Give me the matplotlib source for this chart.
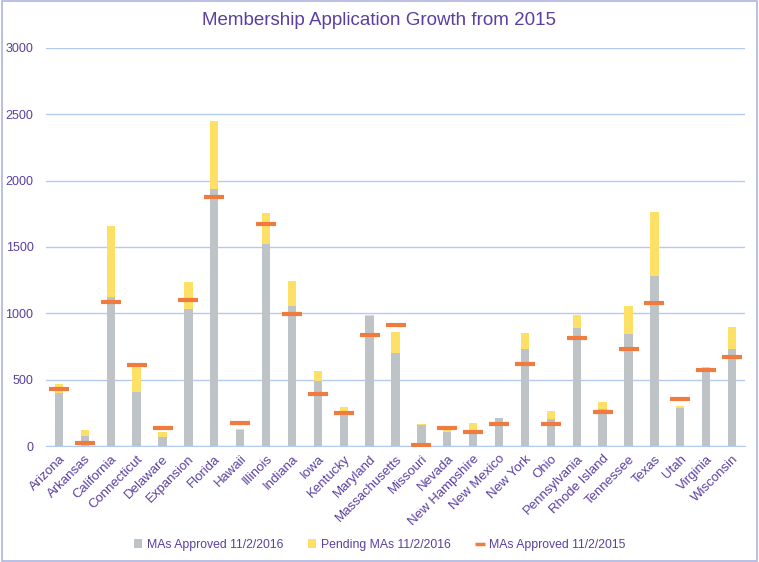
import matplotlib.pyplot as plt
from matplotlib.lines import Line2D
import numpy as np

states = ["Arizona", "Arkansas", "California", "Connecticut", "Delaware", "Expansion",
          "Florida", "Hawaii", "Illinois", "Indiana", "Iowa", "Kentucky", "Maryland",
          "Massachusetts", "Missouri", "Nevada", "New Hampshire", "New Mexico",
          "New York", "Ohio", "Pennsylvania", "Rhode Island", "Tennessee", "Texas",
          "Utah", "Virginia", "Wisconsin"]

# MAs approved as of 11/2/2016
approved_2016 = [400, 78, 1125, 407, 70, 1033, 1937, 121, 1523, 1058, 490, 234, 982,
                 701, 158, 108, 90, 211, 731, 204, 889, 279, 847, 1281, 289, 560, 731]
# pending MAs 11/2/2016 (stacked on top)
pending_2016 = [65, 43, 533, 193, 36, 203, 513, 7, 233, 186, 75, 60, 8,
                158, 8, 18, 83, 0, 121, 60, 98, 53, 208, 483, 13, 33, 166]
# MAs approved as of 11/2/2015
approved_2015 = [432, 25, 1088, 613, 138, 1103, 1880, 176, 1676, 997, 394, 251, 839,
                 914, 5, 138, 108, 168, 620, 168, 817, 259, 734, 1080, 357, 575, 673]

gray = "#BDC3C7"
yellow = "#FFE066"
orange = "#F07B3F"
purple = "#5B3FA0"
grid_col = "#B3CBF2"

plt.rcParams["font.family"] = ["Liberation Sans", "DejaVu Sans"]

fig = plt.figure(figsize=(7.59, 5.62), dpi=100)
ax = fig.add_axes([0.0606, 0.2064, 0.921, 0.7082])

x = np.arange(len(states))
b1 = ax.bar(x, approved_2016, width=0.32, color=gray, label="MAs Approved 11/2/2016", zorder=2)
b2 = ax.bar(x, pending_2016, width=0.32, bottom=approved_2016, color=yellow,
            label="Pending MAs 11/2/2016", zorder=2)
ax.plot(x, approved_2015, linestyle="none", marker="_", markersize=15,
        markeredgewidth=3, color=orange, zorder=3)
l1 = Line2D([], [], linestyle="none", marker="_", markersize=7, markeredgewidth=2.5,
            color=orange, label="MAs Approved 11/2/2015")

ax.set_xlim(-0.5, len(states) - 0.5)
ax.set_ylim(0, 3000)
ax.set_yticks(range(0, 3001, 500))
ax.yaxis.grid(True, color=grid_col, linewidth=1, zorder=0)
ax.set_axisbelow(True)
for side in ["left", "right", "top"]:
    ax.spines[side].set_visible(False)
ax.spines["bottom"].set_color(grid_col)
ax.tick_params(axis="both", length=0, labelsize=9.5, colors=purple)
ax.tick_params(axis="y", pad=9, labelsize=9)
ax.tick_params(axis="x", pad=5)
ax.set_xticks(x)
ax.set_xticklabels(states, rotation=45, ha="right", rotation_mode="anchor")

fig.suptitle("Membership Application Growth from 2015", x=0.5, y=0.978,
             fontsize=13.5, color=purple)

leg = fig.legend(handles=[b1, b2, l1], loc="lower center", bbox_to_anchor=(0.5, 0.0),
                 ncol=3, frameon=False, fontsize=8.8, handlelength=0.7, handleheight=0.7,
                 handletextpad=0.4, columnspacing=2.0)
for t in leg.get_texts():
    t.set_color(purple)

fig.patches.append(plt.Rectangle((0.002, 0.002), 0.996, 0.996, transform=fig.transFigure,
                                 fill=False, edgecolor="#B0B4E0", linewidth=1.2))

fig.savefig("out.png", dpi=100)
